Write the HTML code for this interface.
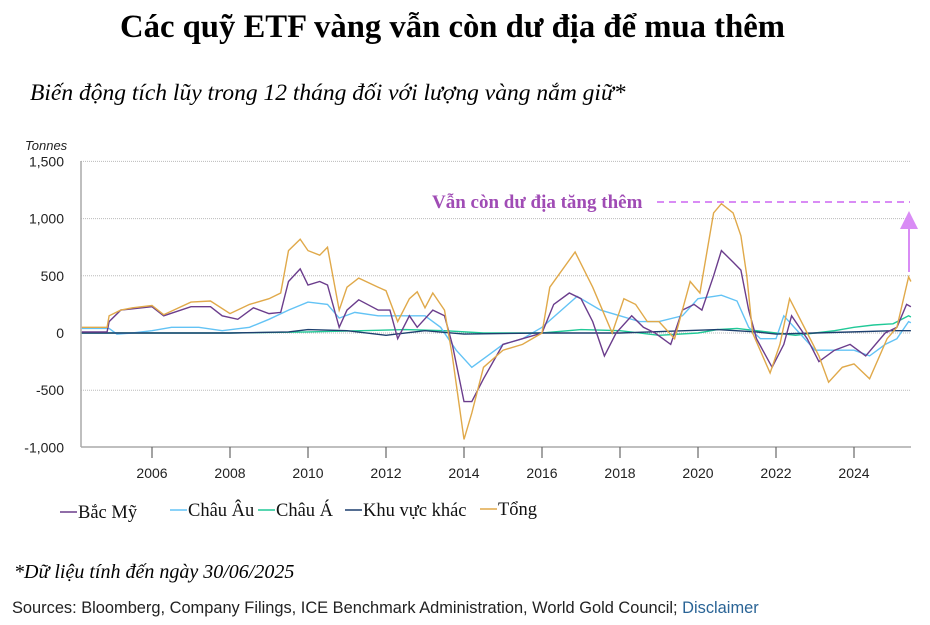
<!DOCTYPE html>
<html><head><meta charset="utf-8"><style>
body{margin:0;width:930px;height:625px;background:#fff;overflow:hidden;position:relative;font-family:"Liberation Serif",serif}
.t{position:absolute;white-space:nowrap}
</style></head><body>
<div class="t" style="left:0;width:905px;text-align:center;top:9px;font-size:32.7px;font-weight:bold">Các quỹ ETF vàng vẫn còn dư địa để mua thêm</div>
<div class="t" style="left:30px;top:80px;font-size:23.5px;font-style:italic">Biến động tích lũy trong 12 tháng đối với lượng vàng nắm giữ*</div>
<svg id="c" width="930" height="625" style="position:absolute;left:0;top:0"></svg>
<div class="t" style="left:14px;top:561px;font-size:20px;font-style:italic">*Dữ liệu tính đến ngày 30/06/2025</div>
<div class="t" style="left:12px;top:599px;font-size:16.4px;font-family:'Liberation Sans',sans-serif;color:#222">Sources: Bloomberg, Company Filings, ICE Benchmark Administration, World Gold Council; <span style="color:#2a6496">Disclaimer</span></div>
<script>
const yTicks=[1500,1000,500,0,-500,-1000];
const yTickLabels=["1,500","1,000","500","0","-500","-1,000"];
const xTicks=[2006,2008,2010,2012,2014,2016,2018,2020,2022,2024];
const seriesNames=["Bắc Mỹ","Châu Âu","Châu Á","Khu vực khác","Tổng"];
const seriesColors=["#6b3d8c","#63c3f5","#20c997","#1d3f6e","#e0a94a"];
const naDates=[2004.2,2004.85,2004.9,2005.2,2006,2006.3,2007,2007.5,2007.8,2008.2,2008.6,2009,2009.3,2009.5,2009.8,2010,2010.3,2010.5,2010.8,2011,2011.3,2011.8,2012.1,2012.3,2012.6,2012.8,2013.2,2013.5,2013.7,2014,2014.2,2014.5,2015,2015.5,2016,2016.3,2016.7,2017,2017.3,2017.6,2017.9,2018.3,2018.6,2018.9,2019.3,2019.6,2019.9,2020.1,2020.4,2020.6,2020.9,2021.1,2021.3,2021.5,2021.9,2022.2,2022.4,2022.8,2023.1,2023.5,2023.9,2024.3,2024.8,2025.1,2025.35,2025.46];
const naVals=[10,10,100,200,230,150,230,230,150,120,220,170,180,450,560,420,450,420,50,200,290,200,200,-50,150,50,200,150,-100,-600,-600,-400,-100,-50,0,250,350,300,100,-200,0,150,50,0,-100,200,250,200,500,720,620,550,200,-50,-300,-100,150,-50,-250,-150,-100,-200,0,50,250,230];
const euDates=[2004.2,2004.9,2005.1,2005.5,2006,2006.5,2007.2,2007.8,2008.5,2009,2009.5,2010,2010.5,2010.8,2011.2,2011.8,2012.5,2013,2013.4,2013.8,2014.2,2014.6,2015,2015.5,2016,2016.5,2016.9,2017.5,2018,2018.5,2019,2019.6,2020,2020.4,2020.6,2021,2021.3,2021.6,2022,2022.2,2022.6,2023,2023.5,2024,2024.4,2024.8,2025.1,2025.4,2025.46];
const euVals=[40,40,-10,0,20,50,50,20,50,120,200,270,250,130,180,150,150,150,50,-150,-300,-200,-100,-50,50,200,320,200,150,100,100,150,300,320,330,280,50,-50,-50,150,0,-150,-150,-150,-200,-100,-50,100,90];
const asDates=[2004.2,2008,2010,2012.5,2013.5,2014.5,2016,2017,2018,2019,2020,2020.5,2021,2021.5,2022,2022.5,2023,2023.5,2024,2024.5,2025,2025.4,2025.46];
const asVals=[0,0,10,30,20,0,0,30,20,-20,0,30,40,20,0,-20,0,20,50,70,80,150,140];
const otDates=[2004.2,2008,2009.5,2010,2011,2012,2013,2014,2016,2018,2020.5,2021.5,2022,2023,2025,2025.46];
const otVals=[0,0,10,30,20,-20,20,-10,0,0,30,10,-10,0,20,20];
const totDates=[2004.2,2004.85,2004.9,2005.2,2005.5,2006,2006.3,2007,2007.5,2008,2008.5,2009,2009.3,2009.5,2009.8,2010,2010.3,2010.5,2010.8,2011,2011.3,2011.8,2012,2012.3,2012.6,2012.8,2013,2013.2,2013.5,2013.7,2014,2014.2,2014.5,2015,2015.5,2016,2016.2,2016.85,2017.3,2017.8,2018.1,2018.4,2018.7,2019,2019.4,2019.8,2020.05,2020.4,2020.6,2020.9,2021.1,2021.25,2021.4,2021.85,2022.1,2022.35,2022.8,2023.1,2023.35,2023.7,2024,2024.4,2024.85,2025.1,2025.4,2025.46];
const totVals=[50,50,150,200,220,240,160,270,280,170,250,300,350,720,820,720,680,750,200,400,480,400,370,100,300,360,220,350,200,-200,-930,-700,-300,-150,-100,0,400,708,400,0,300,250,100,100,-50,450,350,1050,1130,1050,850,500,0,-350,-100,300,0,-200,-430,-300,-270,-400,-50,50,490,450];
const NS="http://www.w3.org/2000/svg";
const svg=document.getElementById('c');
const X0=81,X1=911,Y0=161,Y1=447;
const xs=t=>152+(t-2006)*39;
const ys=v=>333-v*(Y1-Y0)/2500;
function mk(tag,at){const e=document.createElementNS(NS,tag);for(const k in at)e.setAttribute(k,at[k]);svg.appendChild(e);return e;}
yTicks.forEach((v,i)=>{
  if(v!==-1000){const g=mk('line',{x1:X0,x2:X1,y1:ys(v),y2:ys(v),stroke:'#bbb','stroke-dasharray':'1,1'});
  
  }
  const t=mk('text',{x:64,y:ys(v)+5,'text-anchor':'end','font-size':14,'font-family':'Liberation Sans,sans-serif',fill:'#222'});
  t.textContent=yTickLabels[i];
  
  
});
const yt=mk('text',{x:25,y:150,'font-size':13,'font-style':'italic','font-family':'Liberation Sans,sans-serif',fill:'#222'});
yt.textContent='Tonnes';


const ya=mk('line',{x1:X0,x2:X0,y1:Y0,y2:Y1,stroke:'#aaa','stroke-width':1.5});


const xa=mk('line',{x1:X0,x2:X1,y1:Y1,y2:Y1,stroke:'#aaa','stroke-width':1.5});


xTicks.forEach(yr=>{
  const l=mk('line',{x1:xs(yr),x2:xs(yr),y1:Y1,y2:Y1+11,stroke:'#666','stroke-width':1.2});
  
  
  const t=mk('text',{x:xs(yr),y:Y1+31,'text-anchor':'middle','font-size':14,'font-family':'Liberation Sans,sans-serif',fill:'#222'});
  t.textContent=yr;
  
  
});
const allD=[naDates,euDates,asDates,otDates,totDates],allV=[naVals,euVals,asVals,otVals,totVals];
const order=[2,1,3,0,4];
order.forEach(i=>{
  const d=allD[i].map((t,j)=>(j?'L':'M')+xs(t).toFixed(1)+','+ys(allV[i][j]).toFixed(1)).join('');
  const p=mk('path',{d:d,fill:'none',stroke:seriesColors[i],'stroke-width':1.4});
  
  
});
const dl=mk('line',{x1:657,x2:910,y1:ys(1145),y2:ys(1145),stroke:'#d98cf5','stroke-width':2,'stroke-dasharray':'7,5'});


const ar=mk('line',{x1:909,x2:909,y1:272,y2:226,stroke:'#d98cf5','stroke-width':2});


const ah=mk('polygon',{points:'900,229 909,211 918,229',fill:'#d98cf5'});


const an=mk('text',{x:432,y:208,'font-size':19,'font-weight':'bold','font-family':'Liberation Serif,serif',fill:'#a04cb5'});
an.textContent='Vẫn còn dư địa tăng thêm';


const lx=[60,170,258,345,480],ly=[517,515,515,515,514];
seriesNames.forEach((n,i)=>{
  const l=mk('line',{x1:lx[i],x2:lx[i]+17,y1:ly[i]-5,y2:ly[i]-5,stroke:seriesColors[i],'stroke-width':1.5});
  
  
  const t=mk('text',{x:lx[i]+18,y:ly[i]+1,'font-size':18.5,'font-family':'Liberation Serif,serif',fill:'#111'});
  t.textContent=n;
  
  
});
</script>
</body></html>
